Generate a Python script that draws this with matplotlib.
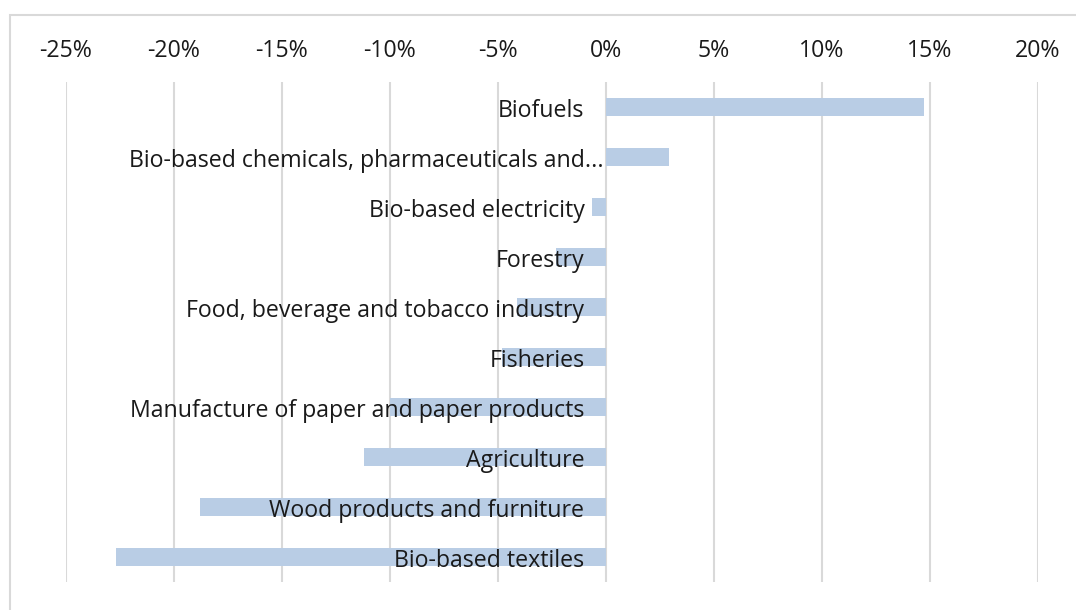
import matplotlib.pyplot as plt
from matplotlib.patches import Rectangle
from matplotlib.ticker import FuncFormatter

# sectors, top to bottom, with their change in percent
sectors = ['Biofuels',
           'Bio-based chemicals, pharmaceuticals and...',
           'Bio-based electricity',
           'Forestry',
           'Food, beverage and tobacco industry',
           'Fisheries',
           'Manufacture of paper and paper products',
           'Agriculture',
           'Wood products and furniture',
           'Bio-based textiles']
change = [14.7, 2.9, -0.65, -2.3, -4.1, -4.8, -10.0, -11.2, -18.8, -22.7]
ticks = [-25, -20, -15, -10, -5, 0, 5, 10, 15, 20]

plt.rcParams['font.family'] = ['Open Sans', 'DejaVu Sans']
FS = 16.7
TXT = '#1a1a1a'

W, H = 1076, 610
fig = plt.figure(figsize=(W / 100, H / 100), dpi=100)
ax = fig.add_axes([66 / W, 1 - 582 / H, (1038 - 66) / W, 500 / H])

# chart area border
fig.patches.append(Rectangle((10 / W, -0.1), 1.2, 1 - 15 / H + 0.1,
                             transform=fig.transFigure, fill=False,
                             edgecolor='#d9d9d9', linewidth=1.5))

ypos = list(range(len(sectors)))
ax.barh(ypos, change, height=0.36, color='#b9cde5', zorder=2)

for y, name in zip(ypos, sectors):
    x = -0.1 if name.endswith('...') else -1.0
    ax.text(x, y + 0.08, name, ha='right', va='center', fontsize=FS,
            color=TXT, zorder=3)

ax.set_xlim(-25, 20)
ax.set_ylim(len(sectors) - 0.5, -0.5)
ax.set_xticks(ticks)
ax.xaxis.set_major_formatter(FuncFormatter(lambda v, p: f'{v:.0f}%'))
ax.xaxis.tick_top()
ax.tick_params(axis='x', length=0, pad=14, labelsize=FS, labelcolor=TXT)
ax.set_yticks([])
ax.grid(axis='x', color='#d9d9d9', linewidth=1.5, zorder=1)
for s in ax.spines.values():
    s.set_visible(False)

fig.savefig('out.png', dpi=100)
